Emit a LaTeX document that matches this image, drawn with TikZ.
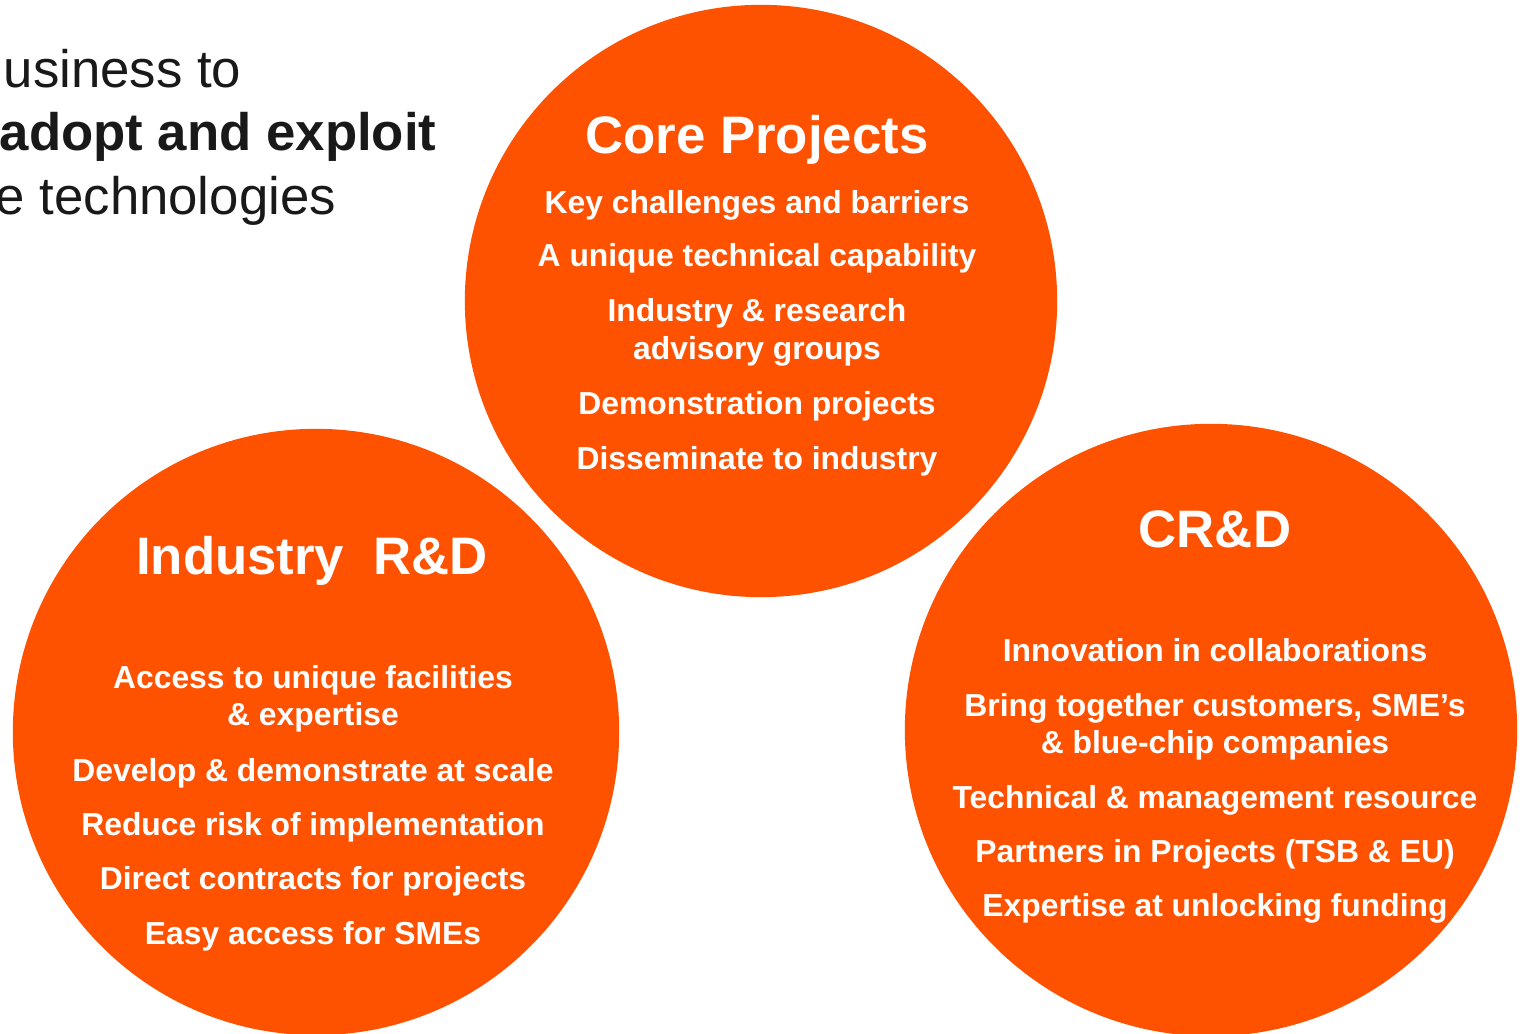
\documentclass[tikz,border=0pt]{standalone}
\usepackage{fontspec}
\setmainfont{Liberation Sans}
\definecolor{brandorange}{HTML}{FF5200}

\begin{document}
\begin{tikzpicture}[x=0.01cm,y=-0.01cm,
   blob/.style={circle,fill=brandorange,draw=none,inner sep=0pt},
   head/.style={anchor=base,inner sep=0pt,text=white,font=\fontsize{15}{18}\selectfont\bfseries},
   item/.style={anchor=base,inner sep=0pt,text=white,font=\fontsize{9.05}{10.8}\selectfont\bfseries},
   lead/.style={anchor=base west,inner sep=0pt,text=black!90,font=\fontsize{15}{18}\selectfont}]

   \useasboundingbox (0,0) rectangle (1523,1034);
   \clip (0,0) rectangle (1523,1034);

   % slide text, cut at the left edge
   \node[lead] (lead-1) at (3,88) {usiness to};
   \node[lead,font=\fontsize{15}{18}\selectfont\bfseries] (lead-2) at (-1,151) {adopt and exploit};
   \node[lead] (lead-3) at (-5,215) {e technologies};

   % the three circles
   \node[blob,minimum size=5.92cm] (core) at (761,301) {};
   \node[blob,minimum size=6.06cm] (ind) at (316,732) {};
   \node[blob,minimum size=6.12cm] (crd) at (1211,730) {};

   % titles
   \node[head] (core-title) at (757,154) {Core Projects};
   \node[head] (ind-title) at (312,575) {Industry\ \ R\&D};
   \node[head] (crd-title) at (1215,548) {CR\&D};

   % items
   \foreach \y/\t [count=\i] in {214/Key challenges and barriers,
         267/A unique technical capability,
         322/Industry \& research,
         360/advisory groups,
         415/Demonstration projects,
         470/Disseminate to industry} {
      \node[item] (core-\i) at (757,\y) {\t};
   }

   \foreach \y/\t [count=\i] in {689/Access to unique facilities,
         726/\& expertise,
         782/Develop \& demonstrate at scale,
         836/Reduce risk of implementation,
         890/Direct contracts for projects,
         945/Easy access for SMEs} {
      \node[item] (ind-\i) at (313,\y) {\t};
   }

   \foreach \y/\t [count=\i] in {662/Innovation in collaborations,
         717/{Bring together customers, SME’s},
         754/\& blue-chip companies,
         809/Technical \& management resource,
         863/Partners in Projects (TSB \& EU),
         917/Expertise at unlocking funding} {
      \node[item] (crd-\i) at (1215,\y) {\t};
   }

\end{tikzpicture}
\end{document}
